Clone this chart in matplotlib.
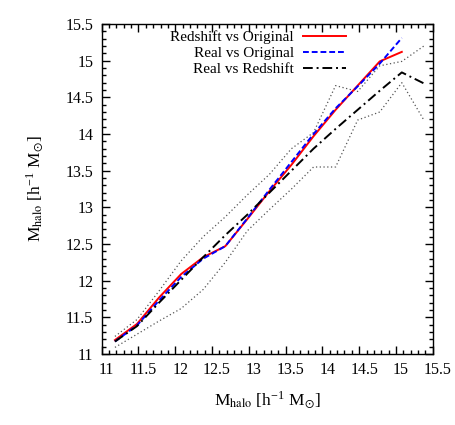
import matplotlib
matplotlib.use("Agg")
import matplotlib.pyplot as plt
import matplotlib.transforms as mtransforms
from matplotlib.ticker import MultipleLocator

plt.rcParams['font.family'] = ['Liberation Serif', 'DejaVu Serif']
plt.rcParams['mathtext.fontset'] = 'stix'

mass_bins = [11.18, 11.48, 11.78, 12.08, 12.38, 12.68, 12.98, 13.28,
             13.58, 13.88, 14.18, 14.48, 14.78, 15.08, 15.38]

redshift_vs_original = [11.19, 11.41, 11.77, 12.09, 12.32, 12.47, 12.84, 13.22,
                        13.58, 13.97, 14.33, 14.66, 14.99, 15.12]
real_vs_original = [11.17, 11.39, 11.73, 12.05, 12.30, 12.47, 12.85, 13.24,
                    13.62, 14.00, 14.35, 14.65, 14.96, 15.31]
real_vs_redshift = [11.17, 11.38, 11.70, 12.01, 12.32, 12.62, 12.90, 13.20,
                    13.50, 13.80, 14.07, 14.33, 14.59, 14.84, 14.69]
upper_scatter = [11.24, 11.47, 11.86, 12.27, 12.60, 12.87, 13.17, 13.45,
                 13.80, 14.02, 14.66, 14.58, 14.93, 14.99, 15.20]
lower_scatter = [11.09, 11.27, 11.45, 11.62, 11.88, 12.25, 12.68, 12.97,
                 13.25, 13.55, 13.55, 14.19, 14.30, 14.70, 14.19]

tick_vals = [11, 11.5, 12, 12.5, 13, 13.5, 14, 14.5, 15, 15.5]
tick_labels = ['11', '11.5', '12', '12.5', '13', '13.5', '14', '14.5', '15', '15.5']

fig = plt.figure(figsize=(4.56, 4.25), dpi=100)
ax = fig.add_axes([101.7 / 456, 1 - 354 / 425, 331 / 456, 330 / 425])

n_rvo = len(redshift_vs_original)
n_rlo = len(real_vs_original)
ax.plot(mass_bins, upper_scatter, color='#555555', lw=0.9, ls=(0, (1, 2)))
ax.plot(mass_bins, lower_scatter, color='#555555', lw=0.9, ls=(0, (1, 2)))
l1, = ax.plot(mass_bins[:n_rvo], redshift_vs_original, color='#ff0000', lw=1.4,
              label='Redshift vs Original')
l2, = ax.plot(mass_bins[:n_rlo], real_vs_original, color='#0000ff', lw=1.4,
              ls=(0, (3, 1.5)), label='Real vs Original')
l3, = ax.plot(mass_bins, real_vs_redshift, color='black', lw=1.4,
              ls=(0, (5, 2, 1, 2)), label='Real vs Redshift')

ax.set_xlim(11, 15.5)
ax.set_ylim(11, 15.5)
ax.set_xticks(tick_vals)
ax.set_xticklabels(tick_labels)
ax.set_yticks(tick_vals)
ax.set_yticklabels(tick_labels)
ax.xaxis.set_minor_locator(MultipleLocator(0.1))
ax.yaxis.set_minor_locator(MultipleLocator(0.1))
ax.tick_params(which='both', direction='in', top=True, right=True, labelsize=11.5,
               width=1.0)
ax.tick_params(which='major', length=6, pad=6)
ax.tick_params(which='minor', length=3)
for sp in ax.spines.values():
    sp.set_linewidth(1.0)

offset = mtransforms.ScaledTranslation(5 / 100, 0, fig.dpi_scale_trans)
for lab in ax.get_xticklabels():
    lab.set_transform(lab.get_transform() + offset)

ax.set_xlabel(r'M$_{\rm halo}$ [h$^{\mathregular{-1}}$ M$_{\odot}$]', fontsize=12.5, labelpad=8)
ax.set_ylabel(r'M$_{\rm halo}$ [h$^{\mathregular{-1}}$ M$_{\odot}$]', fontsize=12.5, labelpad=14)

leg = ax.legend(handles=[l1, l2, l3], loc='upper right', bbox_to_anchor=(0.737, 0.98),
                frameon=False, fontsize=11, markerfirst=False, handlelength=2.8,
                handletextpad=0.6, labelspacing=0.15, borderaxespad=0.0, borderpad=0.0)
for t in leg.get_texts():
    t.set_ha('right')
leg._legend_box.align = 'right'

fig.savefig('out.png', dpi=100)
